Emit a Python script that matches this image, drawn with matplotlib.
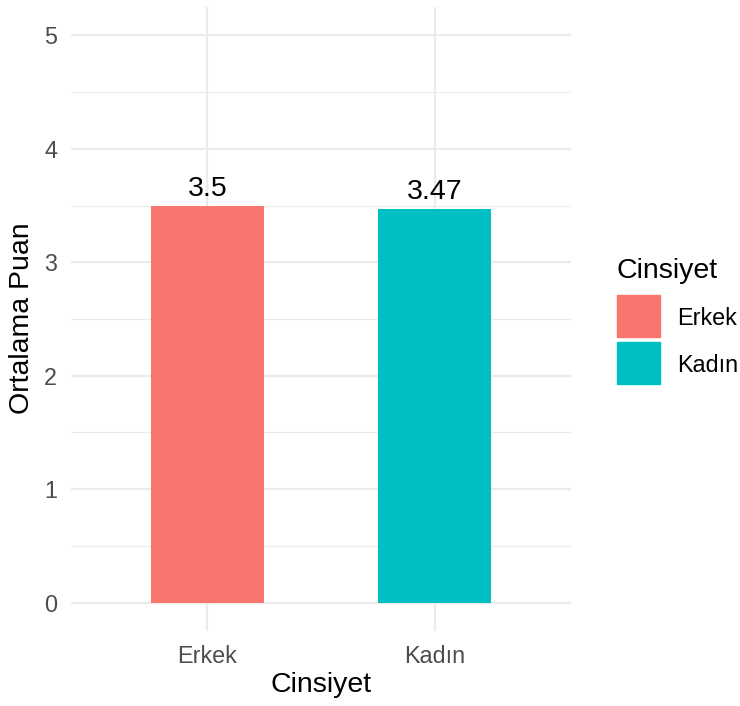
import matplotlib
matplotlib.use("Agg")
import matplotlib.pyplot as plt
from matplotlib.patches import Rectangle

plt.rcParams['font.family'] = ['Liberation Sans', 'DejaVu Sans']

# data
groups = ['Erkek', 'Kadın']
means = [3.5, 3.47]
mean_labels = ['3.5', '3.47']
colors = ['#F8766D', '#00BFC4']

W, H = 740, 706
fig = plt.figure(figsize=(W / 100, H / 100), dpi=100)

# panel in pixel coords
px_l, px_r, px_t, px_b = 71, 571, 7, 631
ax = fig.add_axes([px_l / W, 1 - px_b / H, (px_r - px_l) / W, (px_b - px_t) / H])

x = list(range(1, len(groups) + 1))
ax.bar(x, means, width=0.5, color=colors, zorder=3)
for xi, m, lab in zip(x, means, mean_labels):
    ax.annotate(lab, (xi, m), xytext=(0, 7), textcoords='offset points',
                ha='center', va='baseline', fontsize=20.5, color='black', zorder=4)

ax.set_xlim(0.4, 2.6)
ax.set_ylim(-0.25, 5.25)
ax.set_xticks(x)
ax.set_xticklabels(groups)
ax.set_yticks([0, 1, 2, 3, 4, 5])
ax.set_yticks([0.5, 1.5, 2.5, 3.5, 4.5], minor=True)

ax.grid(which='major', color='#EBEBEB', linewidth=1.6, zorder=0)
ax.grid(which='minor', axis='y', color='#EBEBEB', linewidth=0.8, zorder=0)
for s in ax.spines.values():
    s.set_visible(False)
ax.tick_params(which='both', length=0, labelsize=16.8, labelcolor='#4D4D4D', pad=10)

fig.text(321 / W, 1 - 692 / H, 'Cinsiyet', ha='center', va='baseline', fontsize=20.5)
fig.text(22 / W, 1 - 318 / H, 'Ortalama Puan', ha='center', va='center',
         rotation=90, fontsize=20.5)

# legend
fig.text(616 / W, 1 - 278 / H, 'Cinsiyet', ha='left', va='baseline', fontsize=20.5)
key_tops = [295, 342]
for g, c, kt in zip(groups, colors, key_tops):
    fig.add_artist(Rectangle((617 / W, 1 - (kt + 42) / H), 43 / W, 42 / H,
                             transform=fig.transFigure, color=c))
    fig.text(677 / W, 1 - (kt + 21) / H, g, ha='left', va='center_baseline',
             fontsize=16.8)

fig.savefig('out.png', dpi=100, facecolor='white')
